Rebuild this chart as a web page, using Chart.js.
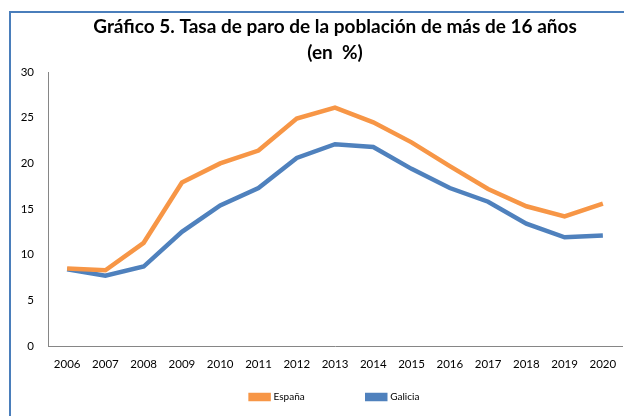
<!DOCTYPE html>
<html>
<head>
<meta charset="utf-8">
<script src="https://cdn.jsdelivr.net/npm/chart.js@4"></script>
<style>
  html, body { margin: 0; padding: 0; background: #fff; }
  #wrap { position: relative; width: 624px; height: 416px; }
</style>
</head>
<body>
<div id="wrap"><canvas id="paroChart" width="624" height="416"></canvas></div>
<script>
// Datos del gráfico
const years = ['2006', '2007', '2008', '2009', '2010', '2011', '2012', '2013', '2014', '2015', '2016', '2017', '2018', '2019', '2020'];
const espana = [8.5, 8.3, 11.3, 17.9, 20.0, 21.4, 24.9, 26.1, 24.5, 22.3, 19.7, 17.2, 15.3, 14.2, 15.6];
const galicia = [8.4, 7.7, 8.7, 12.5, 15.4, 17.3, 20.6, 22.1, 21.8, 19.4, 17.3, 15.8, 13.4, 11.9, 12.1];
const yTicks = [0, 5, 10, 15, 20, 25, 30];

// Marco azul alrededor del gráfico
const framePlugin = {
    id: 'frame',
    beforeDraw(chart) {
        const ctx = chart.ctx;
        ctx.save();
        ctx.fillStyle = '#fff';
        ctx.fillRect(0, 0, chart.width, chart.height);
        ctx.strokeStyle = '#4A7EBB';
        ctx.lineWidth = 2;
        ctx.strokeRect(10, 12, chart.width + 20, chart.height + 20);
        ctx.restore();
    }
};

const ctx = document.getElementById('paroChart').getContext('2d');
new Chart(ctx, {
    type: 'line',
    data: {
        labels: years,
        datasets: [{
            label: 'España',
            data: espana,
            borderColor: '#F79646',
            backgroundColor: '#F79646',
            borderWidth: 4.5,
            pointRadius: 0,
            tension: 0
        }, {
            label: 'Galicia',
            data: galicia,
            borderColor: '#4F81BD',
            backgroundColor: '#4F81BD',
            borderWidth: 4.5,
            pointRadius: 0,
            tension: 0
        }]
    },
    options: {
        responsive: false,
        animation: false,
        layout: { padding: { left: 0, right: 2, top: 0, bottom: 4 } },
        scales: {
            x: {
                offset: true,
                grid: { display: false },
                border: { display: true, color: '#868686', width: 1 },
                ticks: { color: '#000', font: { family: 'Lato', size: 11.5 }, padding: 3, maxRotation: 0, autoSkip: false },
                afterFit: function(scale) { scale.height = 36; }
            },
            y: {
                min: 0,
                max: 30,
                afterBuildTicks: function(scale) { scale.ticks = yTicks.map(v => ({ value: v })); },
                grid: { display: false },
                border: { display: true, color: '#868686', width: 1 },
                ticks: { color: '#000', font: { family: 'Lato', size: 11.5 }, padding: 6 },
                afterFit: function(scale) { scale.width = 48; }
            }
        },
        plugins: {
            title: {
                display: true,
                fullSize: false,
                text: ['Gráfico 5. Tasa de paro de la población de más de 16 años', '(en  %)'],
                color: '#000',
                font: { family: 'Lato', size: 19, weight: 'bold', lineHeight: 1.37 },
                padding: { top: 14, bottom: 6 }
            },
            legend: {
                position: 'bottom',
                fullSize: false,
                labels: {
                    color: '#000',
                    font: { family: 'Lato', size: 10 },
                    boxWidth: 18,
                    boxHeight: 4,
                    padding: 10,
                    // espacio extra entre las dos entradas de la leyenda
                    generateLabels: function(chart) {
                        const items = Chart.defaults.plugins.legend.labels.generateLabels(chart);
                        items[0].text = items[0].text + '\u2003\u2003\u2003\u2003\u2003\u2003\u2003';
                        return items;
                    }
                }
            },
            tooltip: { enabled: false }
        }
    },
    plugins: [framePlugin]
});
</script>
</body>
</html>
